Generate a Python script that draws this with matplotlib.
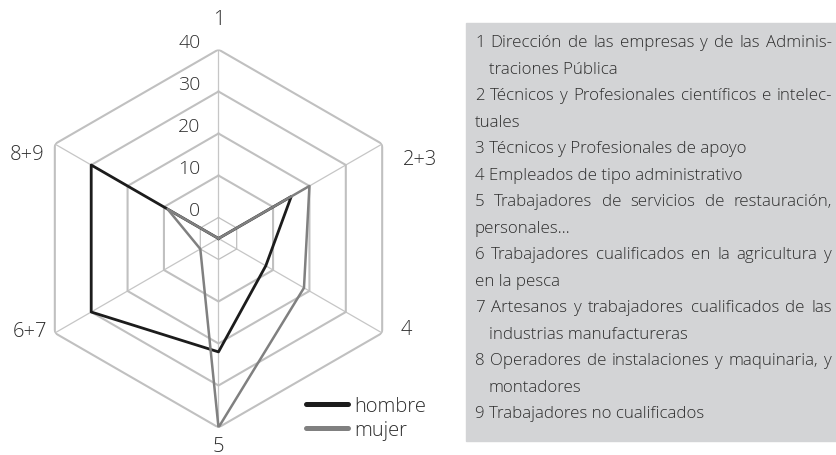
import numpy as np
import matplotlib
matplotlib.use("Agg")
import matplotlib.pyplot as plt
from matplotlib.lines import Line2D
from matplotlib.patches import Rectangle

plt.rcParams['font.family'] = ['Open Sans', 'DejaVu Sans']
plt.rcParams['font.weight'] = 'light'

# data (radial axis runs from -5 at the centre)
ejes = ["1", "2+3", "4", "5", "6+7", "8+9"]
hombre = [-5, 15, 8, 22, 30, 30]
mujer = [-5, 20, 18.5, 40, 0, 9]
niveles = [0, 10, 20, 30, 40]
r_min, r_max = -5, 40
series_names = ["hombre", "mujer"]

leyenda = [
    ("1 Dirección de las empresas y de las  Adminis-", False, True),
    ("traciones Pública", True, False),
    ("2 Técnicos y Profesionales científicos e intelec-", False, True),
    ("tuales", False, False),
    ("3 Técnicos y Profesionales de apoyo", False, False),
    ("4 Empleados de tipo administrativo", False, False),
    ("5 Trabajadores de servicios de restauración,", False, True),
    ("personales…", False, False),
    ("6 Trabajadores cualificados en la agricultura y", False, True),
    ("en la pesca", False, False),
    ("7 Artesanos y trabajadores cualificados de las", False, True),
    ("industrias manufactureras", True, False),
    ("8 Operadores de instalaciones y maquinaria, y", False, True),
    ("montadores", True, False),
    ("9 Trabajadores no cualificados", False, False),
]

W, H = 837, 456
fig = plt.figure(figsize=(W / 100, H / 100), dpi=100)
fig.patch.set_facecolor("white")

def fx(px):
    return px / W

def fy(py):
    return 1 - py / H

# radar
cx, cy, R = 218.5, 239.5, 189
ax = fig.add_axes([fx(cx - R), fy(cy + R), 2 * R / W, 2 * R / H], projection="polar")
ax.set_theta_offset(np.pi / 2)
ax.set_theta_direction(-1)
ax.set_ylim(r_min, r_max)
ax.grid(False)
ax.set_xticks([])
ax.set_yticks([])
ax.spines["polar"].set_visible(False)
ax.patch.set_alpha(0)

ang = np.linspace(0, 2 * np.pi, len(ejes), endpoint=False)
ang_c = np.append(ang, ang[0])

for a in ang:
    ax.plot([a, a], [r_min, r_max], color="#c6c6c6", lw=0.9, zorder=1)
for lv in niveles:
    ax.plot(ang_c, [lv] * len(ang_c), color="#c0c0c0",
            lw=0.9 if lv == 0 else 1.5, zorder=1)

ax.plot(ang_c, hombre + hombre[:1], color="#1c1c1c", lw=2.0, zorder=3)
ax.plot(ang_c, mujer + mujer[:1], color="#808080", lw=1.8, zorder=4)

txt_col = "#2e2e2e"

# ring values
for lv in niveles:
    ax.annotate(str(lv), xy=(0, lv), xytext=(-18, 7), textcoords="offset pixels",
                ha="right", va="center", fontsize=14, color=txt_col)

# axis names
offs = [((0, 30), "center"), ((21, -15), "left"), ((18, 4), "left"),
        ((0, -19), "center"), ((-8, 2), "right"), ((-10, -10), "right")]
for a, name, (o, ha) in zip(ang, ejes, offs):
    ax.annotate(name, xy=(a, r_max), xytext=o, textcoords="offset pixels",
                ha=ha, va="center", fontsize=14.5, color=txt_col,
                annotation_clip=False)

handles = [Line2D([], [], color="#1c1c1c", lw=3.6, solid_capstyle="round"),
           Line2D([], [], color="#808080", lw=3.6, solid_capstyle="round")]
fig.legend(handles, series_names, loc="upper left",
           bbox_to_anchor=(fx(306), fy(397)), frameon=False, fontsize=14.5,
           handlelength=2.1, handletextpad=0.3, labelspacing=0.18,
           borderpad=0, borderaxespad=0, labelcolor=txt_col)

# right hand box with category descriptions
fig.patches.append(Rectangle((fx(466), fy(442)), fx(837 - 466), (442 - 24) / H,
                             transform=fig.transFigure, color="#d3d4d6", zorder=0))

left, right, indent = 475, 832, 14
base0, step = 47.3, 26.5
fs = 12.2
renderer = fig.canvas.get_renderer()
for i, (txt, ind, just) in enumerate(leyenda):
    yb = fy(base0 + i * step)
    x0 = left + (indent if ind else 0)
    if not just:
        fig.text(fx(x0), yb, txt, fontsize=fs, color=txt_col, va="baseline")
        continue
    words = txt.split()
    objs = [fig.text(fx(x0), yb, w, fontsize=fs, color=txt_col, va="baseline")
            for w in words]
    widths = [o.get_window_extent(renderer).width for o in objs]
    gap = (right - x0 - sum(widths)) / (len(words) - 1)
    x = x0
    for o, w in zip(objs, widths):
        o.set_x(fx(x))
        x += w + gap

fig.savefig("out.png", dpi=100)
